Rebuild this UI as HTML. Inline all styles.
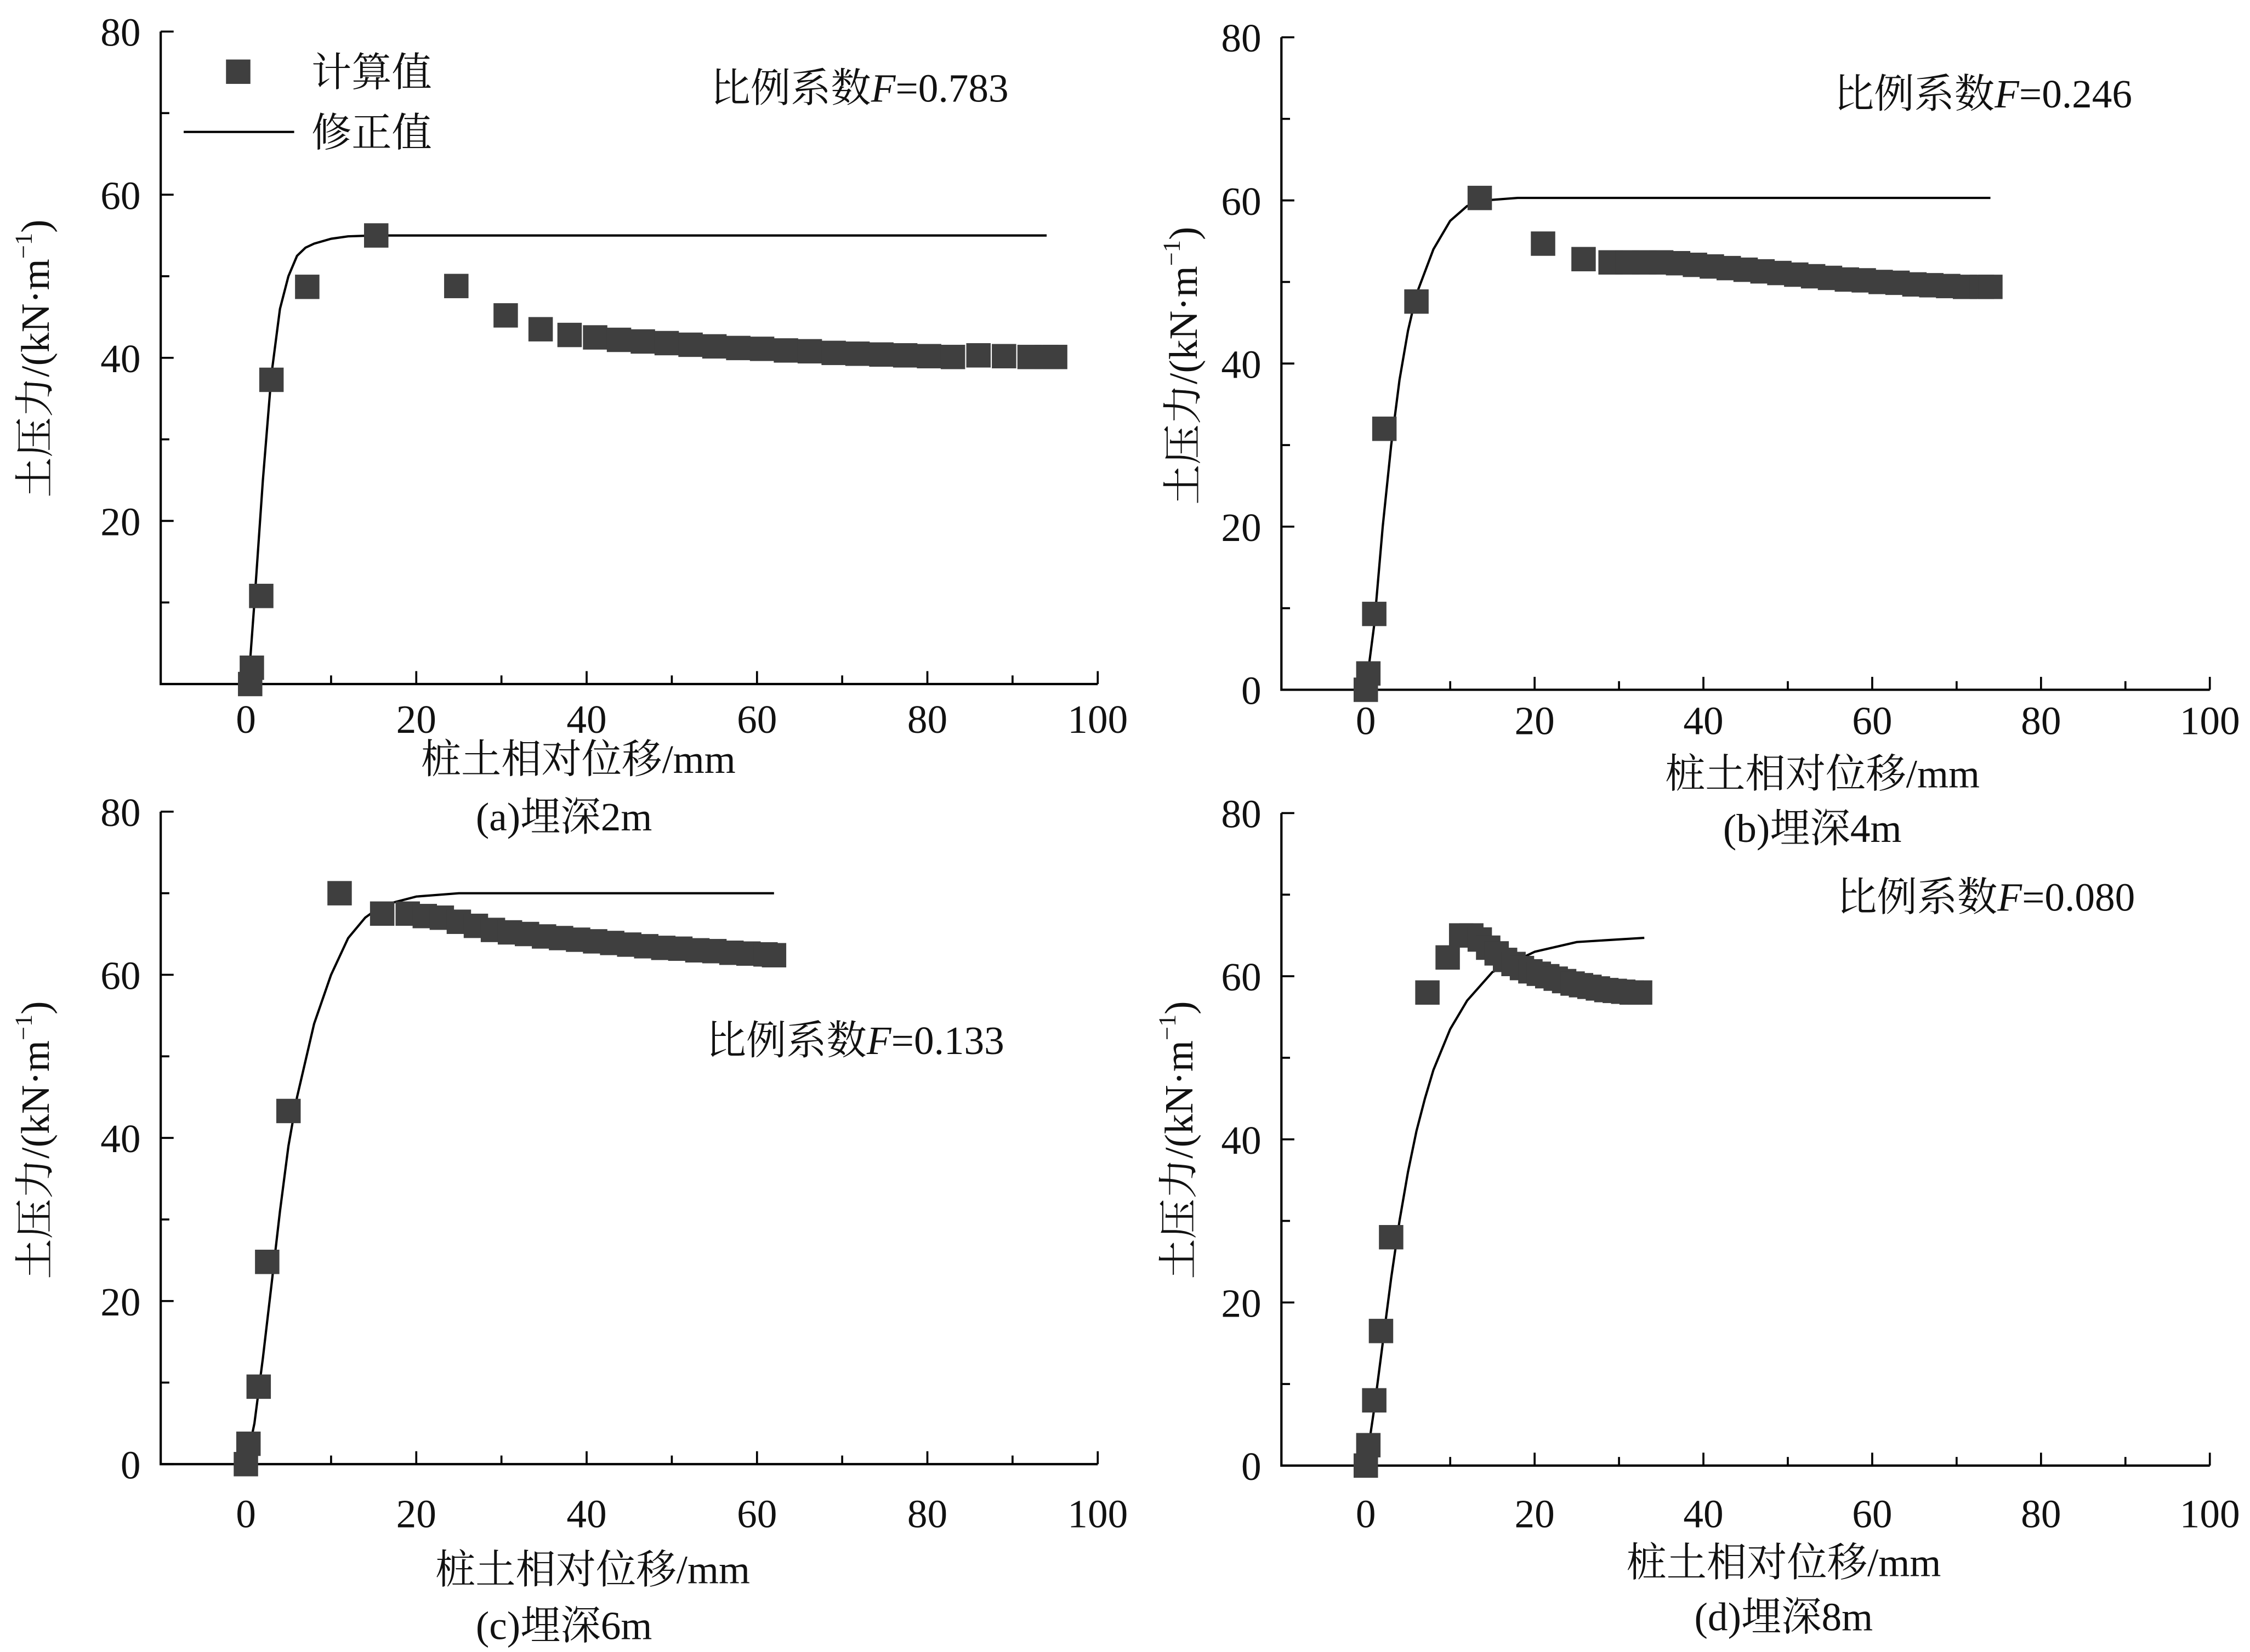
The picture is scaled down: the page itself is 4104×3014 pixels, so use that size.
<!DOCTYPE html>
<html><head><meta charset="utf-8"><style>
html,body{margin:0;padding:0;background:#fff}
svg{display:block}
svg text{font-family:"Liberation Serif","Times New Roman","DejaVu Serif","Noto Serif CJK SC",serif;fill:#111}
</style></head><body>
<svg id="fig" width="4104" height="3014" viewBox="0 0 1568 1152" preserveAspectRatio="none" xmlns="http://www.w3.org/2000/svg" font-family="Liberation Serif, Noto Serif CJK SC, serif"></svg>
<script>
// Panel (a)
const aPtsX=[0.5,0.7,1.8,3,7.2,15.3,24.7,30.5,34.6,38,41,43.8,46.6,49.4,52.2,55,57.8,60.6,63.4,66.2,69,71.8,74.6,77.4,80.2,83,86,89,92,94,95];
const aPtsY=[0,2,10.8,37.3,48.7,55,48.8,45.2,43.5,42.8,42.5,42.2,42,41.8,41.6,41.4,41.2,41.1,40.9,40.8,40.6,40.5,40.4,40.3,40.2,40.1,40.3,40.2,40.1,40.1,40.1];
const aCurX=[0.3,1,2,3,4,5,6,7,8,10,12,15,94];
const aCurY=[0,10,25,38,46,50,52.5,53.5,54,54.6,54.9,55,55];
// Panel (b)
const bPtsX=[0,0.3,1,2.2,6,13.5,21,25.8,29,31,33,35,37,39,41,43,45,47,49,51,53,55,57,59,61,63,65,67,69,71,73,74];
const bPtsY=[0,2,9.3,32,47.6,60.3,54.7,52.8,52.4,52.4,52.4,52.4,52.3,52.1,51.9,51.7,51.5,51.3,51.1,50.9,50.7,50.5,50.3,50.2,50,49.9,49.7,49.6,49.5,49.4,49.4,49.4];
const bCurX=[0,1,2,3,4,5,6,8,10,12,14,18,74];
const bCurY=[0,8,20,30,38,44,48.5,54,57.5,59.3,60,60.3,60.3];
// Panel (c)
const cPtsX=[0,0.3,1.5,2.5,5,11,16,19,21,23,25,27,29,31,33,35,37,39,41,43,45,47,49,51,53,55,57,59,61,62];
const cPtsY=[0,2.5,9.5,24.8,43.3,70,67.5,67.5,67.2,67,66.5,66,65.5,65.2,65,64.7,64.5,64.3,64.1,63.9,63.7,63.5,63.3,63.2,63,62.9,62.7,62.6,62.5,62.4];
const cCurX=[0,1,2,3,4,5,6,8,10,12,14,16,20,25,62];
const cCurY=[0,5,13,22,31,39,45,54,60,64.5,67,68.5,69.6,70,70];
// Panel (d)
const dPtsX=[0,0.3,1,1.8,3,7.3,9.7,11.3,12.5,13.5,14.5,15.5,16.5,17.5,18.5,19.5,20.5,21.5,22.5,23.5,24.5,25.5,26.5,27.5,28.5,29.5,30.5,31.5,32.5];
const dPtsY=[0,2.5,8,16.5,28,58,62.3,65,65,64.5,63.5,62.8,62,61.5,61,60.6,60.3,60,59.7,59.4,59.1,58.9,58.7,58.5,58.3,58.2,58.1,58,58];
const dCurX=[0,1,2,3,4,5,6,7,8,10,12,15,20,25,33];
const dCurY=[0,7,15,23,30,36,41,45,48.5,53.5,57,60.5,63,64.2,64.7];
const xTicks=[0,20,40,60,80,100];
const yTicksA=[20,40,60,80];
const yTicksB=[0,20,40,60,80];

const NS="http://www.w3.org/2000/svg";
const svg=document.getElementById('fig');
function mk(tag,attrs,parent){const e=document.createElementNS(NS,tag);for(const k in attrs)e.setAttribute(k,attrs[k]);(parent||svg).appendChild(e);return e;}

const panels=[
 {id:'a',x0:112,x1:765,yTop:22,yBot:477,px:aPtsX,py:aPtsY,cx:aCurX,cy:aCurY,yt:yTicksA,xo:34,
  ann:['比例系数',0.783,495,71],xt:[403,539],cap:['(a)埋深2m',393,579],yl:[25,250]},
 {id:'b',x0:893,x1:1540,yTop:26,yBot:481,px:bPtsX,py:bPtsY,cx:bCurX,cy:bCurY,yt:yTicksB,xo:31,
  ann:['比例系数',0.246,1278,75],xt:[1270,549],cap:['(b)埋深4m',1263,587],yl:[825,255]},
 {id:'c',x0:112,x1:765,yTop:566,yBot:1021,px:cPtsX,py:cPtsY,cx:cCurX,cy:cCurY,yt:yTicksB,xo:44,
  ann:['比例系数',0.133,492,735],xt:[413,1104],cap:['(c)埋深6m',393,1143],yl:[25,795]},
 {id:'d',x0:893,x1:1540,yTop:567,yBot:1022,px:dPtsX,py:dPtsY,cx:dCurX,cy:dCurY,yt:yTicksB,xo:43,
  ann:['比例系数',0.080,1280,635],xt:[1243,1099],cap:['(d)埋深8m',1243,1137],yl:[822,795]}
];

panels.forEach(p=>{
  const g=mk('g',{});
  
  
  const sx=v=>p.x0+(v+10)/110*(p.x1-p.x0);
  const sy=v=>p.yBot-v/80*(p.yBot-p.yTop);
  const ax=mk('path',{d:`M${p.x0},${p.yTop}V${p.yBot}H${p.x1}`,fill:'none',stroke:'#000','stroke-width':1.6},g);
  
  
  for(let v=0;v<=80;v+=10){
    const len=v%20===0?9:6;
    mk('line',{x1:p.x0,x2:p.x0+len,y1:sy(v),y2:sy(v),stroke:'#000','stroke-width':1.4},g);
  }
  for(let v=0;v<=100;v+=10){
    const len=v%20===0?9:6;
    mk('line',{x1:sx(v),x2:sx(v),y1:p.yBot,y2:p.yBot-len,stroke:'#000','stroke-width':1.4},g);
  }
  p.yt.forEach(v=>{
    const t=mk('text',{x:p.x0-14,y:sy(v)+10,'text-anchor':'end','font-size':28},g);
    
    
    t.textContent=v;
  });
  xTicks.forEach(v=>{
    const t=mk('text',{x:sx(v),y:p.yBot+p.xo,'text-anchor':'middle','font-size':28},g);
    
    
    t.textContent=v;
  });
  let d='';
  p.cx.forEach((v,i)=>{d+=(i?'L':'M')+sx(v).toFixed(1)+','+sy(p.cy[i]).toFixed(1);});
  const cv=mk('path',{d:d,fill:'none',stroke:'#000','stroke-width':1.6,'stroke-linejoin':'round'},g);
  
  
  p.px.forEach((v,i)=>{
    const r=mk('rect',{x:sx(v)-8.5,y:sy(p.py[i])-8.5,width:17,height:17,fill:'#3f3f3f'},g);
    
    
  });
  const an=mk('text',{x:p.ann[2],y:p.ann[3],'font-size':28},g);
  
  
  an.innerHTML=`${p.ann[0]}<tspan font-style="italic">F</tspan>=${p.ann[1].toFixed(3)}`;
  const xt=mk('text',{x:p.xt[0],y:p.xt[1],'text-anchor':'middle','font-size':28},g);
  
  
  xt.textContent='桩土相对位移/mm';
  const cp=mk('text',{x:p.cap[1],y:p.cap[2],'text-anchor':'middle','font-size':28},g);
  
  
  cp.textContent=p.cap[0];
  const yl=mk('text',{x:0,y:0,'text-anchor':'middle','font-size':28,transform:`translate(${p.yl[0]+9},${p.yl[1]}) rotate(-90)`},g);
  
  
  yl.innerHTML='土压力/(kN·m<tspan font-size="17" dy="-12">−1</tspan><tspan dy="12">)</tspan>';
});
const lg=mk('g',{});


mk('rect',{x:157.5,y:41.5,width:17,height:17,fill:'#3f3f3f'},lg);
const l1=mk('text',{x:217,y:60,'font-size':28},lg);


l1.textContent='计算值';
mk('line',{x1:128,x2:205,y1:92,y2:92,stroke:'#000','stroke-width':1.6},lg);
const l2=mk('text',{x:217,y:102,'font-size':28},lg);


l2.textContent='修正值';
</script>
</body></html>
